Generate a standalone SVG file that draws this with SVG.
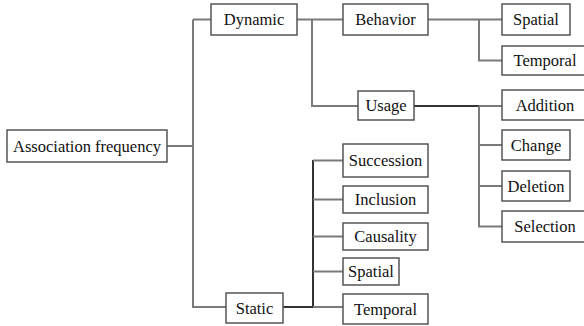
<svg xmlns="http://www.w3.org/2000/svg" width="584" height="326" viewBox="0 0 584 326">
<style>
.box{fill:#fff;stroke:#555;stroke-width:1.5}
.t{font-size:16.5px;fill:#111;text-anchor:middle;dominant-baseline:central}
.c{fill:none;stroke:#7a7a7a;stroke-width:2}
.d{fill:none;stroke:#333;stroke-width:2}
</style>
<rect width="584" height="326" fill="#fff"/>
<g id="connectors">
<path class="c" d="M167 146H193M193 19.5V307H226M193 19.5H211"/>
<path class="c" d="M297 19.5H343M312 19.5V106H358"/>
<path class="c" d="M428 19.5H479V60.5H502M479 19.5H502"/>
<path class="d" d="M414 106H479"/>
<path class="c" d="M479 106H502M479 106V226.5H502M479 145H502M479 186H502"/>
<path class="d" d="M283 307H313V160"/>
<path class="c" d="M313 160.5H343M313 199.5H343M313 236.5H343M313 271.5H343M313 307H343"/>
</g>
<g font-family="'Liberation Serif', Tinos, 'DejaVu Serif', 'Times New Roman', serif">
<g id="n-assoc"><rect class="box" x="7" y="130" width="160" height="32"/><text class="t" x="87" y="146">Association frequency</text></g>
<g id="n-dynamic"><rect class="box" x="211" y="4" width="86" height="31"/><text class="t" x="254" y="19.5">Dynamic</text></g>
<g id="n-static"><rect class="box" x="226" y="293" width="57" height="30"/><text class="t" x="254.5" y="308">Static</text></g>
<g id="n-behavior"><rect class="box" x="343" y="4" width="85" height="31"/><text class="t" x="385.5" y="19.5">Behavior</text></g>
<g id="n-usage"><rect class="box" x="358" y="91" width="56" height="29"/><text class="t" x="386" y="105.5">Usage</text></g>
<g id="n-spatial1"><rect class="box" x="502" y="4" width="68" height="31"/><text class="t" x="536" y="19.5">Spatial</text></g>
<g id="n-temporal1"><rect class="box" x="502" y="46" width="88" height="29"/><text class="t" x="545" y="60.5">Temporal</text></g>
<g id="n-addition"><rect class="box" x="502" y="90" width="88" height="30"/><text class="t" x="545" y="105">Addition</text></g>
<g id="n-change"><rect class="box" x="502" y="130" width="68" height="30"/><text class="t" x="536" y="145">Change</text></g>
<g id="n-deletion"><rect class="box" x="502" y="171" width="68" height="30"/><text class="t" x="536" y="186">Deletion</text></g>
<g id="n-selection"><rect class="box" x="502" y="211" width="88" height="31"/><text class="t" x="545" y="226.5">Selection</text></g>
<g id="n-succession"><rect class="box" x="343" y="144" width="85" height="33"/><text class="t" x="385.5" y="160.5">Succession</text></g>
<g id="n-inclusion"><rect class="box" x="343" y="186" width="85" height="27"/><text class="t" x="385.5" y="199.5">Inclusion</text></g>
<g id="n-causality"><rect class="box" x="343" y="223" width="85" height="27"/><text class="t" x="385.5" y="236.5">Causality</text></g>
<g id="n-spatial2"><rect class="box" x="343" y="258" width="56" height="27"/><text class="t" x="371" y="271.5">Spatial</text></g>
<g id="n-temporal2"><rect class="box" x="343" y="294" width="85" height="30"/><text class="t" x="385.5" y="309">Temporal</text></g>
</g>
</svg>
